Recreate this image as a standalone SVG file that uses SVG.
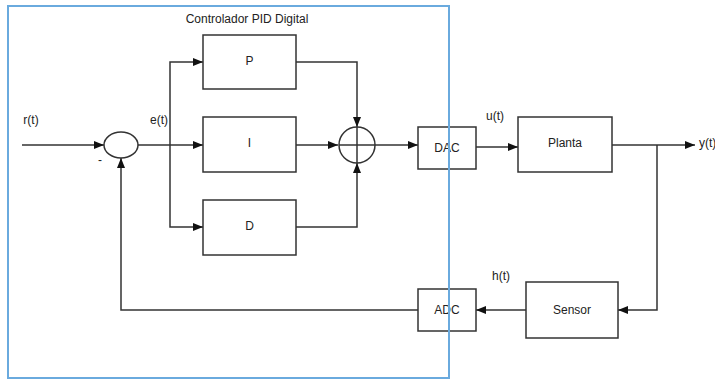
<svg xmlns="http://www.w3.org/2000/svg" width="715" height="379" viewBox="0 0 715 379">
<defs>
<marker id="arr" viewBox="0 0 10 8" refX="10" refY="4" markerWidth="10" markerHeight="8" markerUnits="userSpaceOnUse" orient="auto">
<path d="M0,0 L10,4 L0,8 z" fill="#111"/>
</marker>
</defs>
<style>
.box{fill:#fff;stroke:#333;stroke-width:1.5}
.ln{fill:none;stroke:#333;stroke-width:1.5}
.t{font-family:"Liberation Sans",Arial,sans-serif;font-size:12px;fill:#222}
.c{text-anchor:middle;dominant-baseline:central}
.frame{fill:none;stroke:#6aaade;stroke-width:2}
</style>
<rect width="715" height="379" fill="#fff"/>
<g id="connectors">
<line class="ln" x1="22" y1="145" x2="104" y2="145" marker-end="url(#arr)"/>
<line class="ln" x1="138" y1="145" x2="203" y2="145" marker-end="url(#arr)"/>
<polyline class="ln" points="170,145 170,62 203,62" marker-end="url(#arr)"/>
<polyline class="ln" points="170,145 170,227 203,227" marker-end="url(#arr)"/>
<polyline class="ln" points="296,62 357,62 357,127" marker-end="url(#arr)"/>
<line class="ln" x1="296" y1="145" x2="338" y2="145" marker-end="url(#arr)"/>
<polyline class="ln" points="296,227 357,227 357,163" marker-end="url(#arr)"/>
<line class="ln" x1="375" y1="145" x2="418" y2="145" marker-end="url(#arr)"/>
<line class="ln" x1="476" y1="147" x2="518" y2="147" marker-end="url(#arr)"/>
<line class="ln" x1="612" y1="145" x2="695" y2="145" marker-end="url(#arr)"/>
<polyline class="ln" points="657,145 657,310 618,310" marker-end="url(#arr)"/>
<line class="ln" x1="526" y1="310" x2="476" y2="310" marker-end="url(#arr)"/>
<polyline class="ln" points="418,310 121,310 121,158" marker-end="url(#arr)"/>
</g>
<g id="sum1"><ellipse class="box" cx="121" cy="145" rx="17" ry="13"/></g>
<g id="sum2">
<circle class="box" cx="357" cy="145" r="18"/>
<line class="ln" x1="339" y1="145" x2="375" y2="145"/>
<line class="ln" x1="357" y1="127" x2="357" y2="163"/>
</g>
<g id="P"><rect class="box" x="203" y="35" width="93" height="54"/><text class="t c" x="249.5" y="61">P</text></g>
<g id="I"><rect class="box" x="203" y="117" width="93" height="55"/><text class="t c" x="249.5" y="143">I</text></g>
<g id="D"><rect class="box" x="203" y="200" width="93" height="55"/><text class="t c" x="249.5" y="226">D</text></g>
<g id="DAC"><rect class="box" x="418" y="127" width="58" height="42"/><text class="t c" x="447" y="148">DAC</text></g>
<g id="Planta"><rect class="box" x="518" y="117" width="94" height="55"/><text class="t c" x="565" y="143">Planta</text></g>
<g id="Sensor"><rect class="box" x="526" y="282" width="92" height="56"/><text class="t c" x="572" y="310">Sensor</text></g>
<g id="ADC"><rect class="box" x="418" y="289" width="58" height="42"/><text class="t c" x="447" y="310">ADC</text></g>
<g id="labels">
<text class="t c" x="31" y="120">r(t)</text>
<text class="t c" x="159" y="120">e(t)</text>
<text class="t c" x="100" y="160">-</text>
<text class="t c" x="495" y="116">u(t)</text>
<text class="t c" x="501" y="276">h(t)</text>
<text class="t" x="699" y="147">y(t)</text>
</g>
<g id="frame">
<rect class="frame" x="8" y="6" width="441" height="372"/>
<text class="t c" x="247" y="19">Controlador PID Digital</text>
</g>
</svg>
